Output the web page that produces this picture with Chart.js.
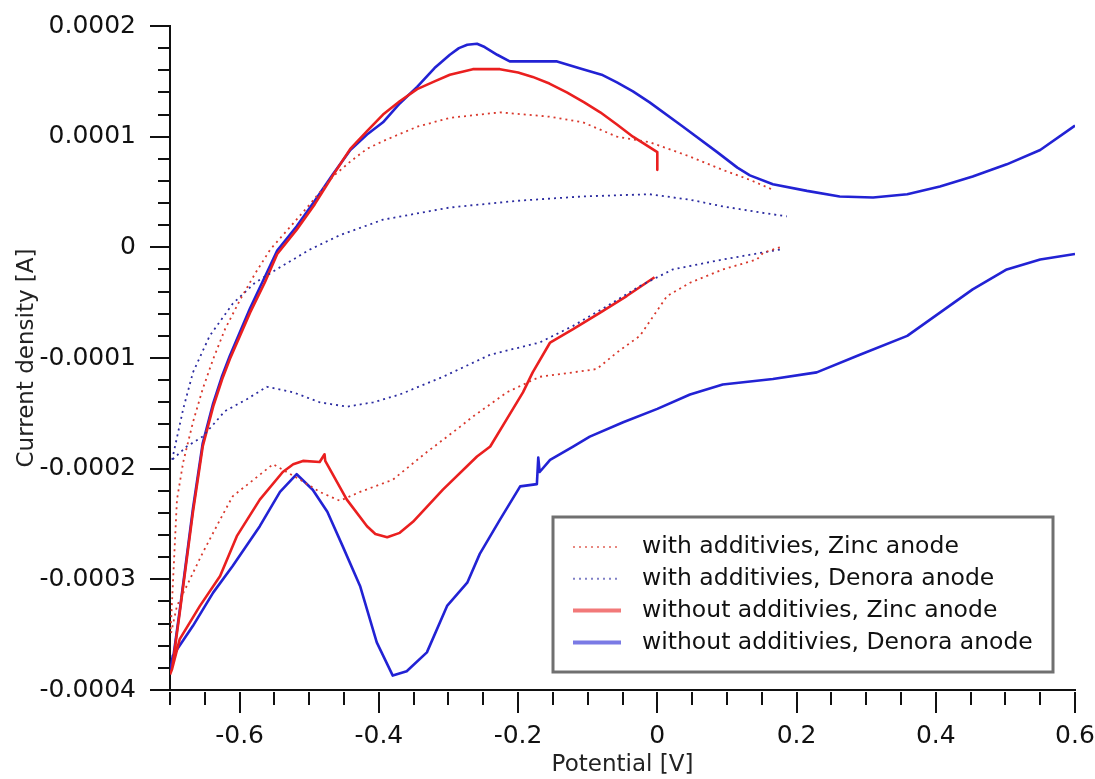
<!DOCTYPE html>
<html>
<head>
<meta charset="utf-8">
<script src="https://cdn.jsdelivr.net/npm/chart.js@4.4.1/dist/chart.umd.min.js"></script>
<style>
  html, body { margin: 0; padding: 0; background: #fff; }
</style>
</head>
<body>
<canvas id="cv" width="1095" height="779"></canvas>
<script>
// tick labels
var potentialTicks = [-0.6, -0.4, -0.2, 0, 0.2, 0.4, 0.6];
var currentTicks = [-0.0004, -0.0003, -0.0002, -0.0001, 0, 0.0001, 0.0002];

var seriesLabels = [
    'with additivies, Zinc anode',
    'with additivies, Denora anode',
    'without additivies, Zinc anode',
    'without additivies, Denora anode'
];

// [potential V, current A]; forward sweep then return sweep
var zincAddForward = [
    [-0.699, -3.45e-4], [-0.694, -2.80e-4], [-0.690, -2.28e-4], [-0.681, -1.94e-4], [-0.667, -1.58e-4],
    [-0.653, -1.28e-4], [-0.638, -1.01e-4], [-0.621, -0.74e-4], [-0.599, -0.47e-4], [-0.578, -0.24e-4],
    [-0.556, -0.02e-4], [-0.528, 0.18e-4], [-0.499, 0.39e-4], [-0.466, 0.64e-4], [-0.440, 0.78e-4],
    [-0.417, 0.89e-4], [-0.394, 0.96e-4], [-0.345, 1.09e-4], [-0.298, 1.17e-4], [-0.226, 1.22e-4],
    [-0.154, 1.18e-4], [-0.107, 1.13e-4], [-0.058, 1.00e-4], [-0.011, 0.95e-4], [0.047, 0.82e-4],
    [0.094, 0.70e-4], [0.133, 0.61e-4], [0.166, 0.52e-4]
];
var zincAddReturn = [
    [0.176, 0.00e-4], [0.152, -0.05e-4], [0.143, -0.11e-4], [0.094, -0.20e-4], [0.047, -0.32e-4],
    [0.014, -0.44e-4], [-0.025, -0.80e-4], [-0.058, -0.95e-4], [-0.087, -1.10e-4], [-0.121, -1.13e-4],
    [-0.169, -1.17e-4], [-0.216, -1.31e-4], [-0.265, -1.53e-4], [-0.283, -1.62e-4], [-0.331, -1.85e-4],
    [-0.380, -2.10e-4], [-0.427, -2.21e-4], [-0.456, -2.29e-4], [-0.485, -2.21e-4], [-0.513, -2.10e-4],
    [-0.552, -1.96e-4], [-0.610, -2.25e-4], [-0.628, -2.46e-4], [-0.653, -2.76e-4], [-0.676, -3.06e-4],
    [-0.690, -3.24e-4], [-0.699, -3.50e-4]
];

var denoraAddForward = [
    [-0.697, -1.92e-4], [-0.681, -1.46e-4], [-0.667, -1.13e-4], [-0.643, -0.80e-4], [-0.610, -0.51e-4],
    [-0.578, -0.32e-4], [-0.542, -0.18e-4], [-0.499, -0.02e-4], [-0.456, 0.11e-4], [-0.394, 0.25e-4],
    [-0.298, 0.36e-4], [-0.202, 0.42e-4], [-0.107, 0.46e-4], [-0.011, 0.48e-4], [0.047, 0.43e-4],
    [0.094, 0.37e-4], [0.143, 0.32e-4], [0.186, 0.28e-4]
];
var denoraAddReturn = [
    [0.176, -0.02e-4], [0.094, -0.11e-4], [0.022, -0.20e-4], [-0.025, -0.35e-4], [-0.072, -0.53e-4],
    [-0.121, -0.71e-4], [-0.169, -0.86e-4], [-0.240, -0.97e-4], [-0.308, -1.17e-4], [-0.370, -1.33e-4],
    [-0.408, -1.40e-4], [-0.446, -1.44e-4], [-0.485, -1.40e-4], [-0.523, -1.31e-4], [-0.561, -1.26e-4],
    [-0.589, -1.37e-4], [-0.621, -1.48e-4], [-0.653, -1.71e-4], [-0.676, -1.80e-4], [-0.697, -1.92e-4]
];

var zincPlainForward = [
    [-0.700, -3.86e-4], [-0.697, -3.81e-4], [-0.686, -3.30e-4], [-0.667, -2.39e-4], [-0.653, -1.80e-4],
    [-0.638, -1.44e-4], [-0.625, -1.19e-4], [-0.614, -1.01e-4], [-0.585, -0.59e-4], [-0.564, -0.32e-4],
    [-0.546, -0.06e-4], [-0.518, 0.16e-4], [-0.492, 0.39e-4], [-0.466, 0.65e-4], [-0.441, 0.89e-4],
    [-0.417, 1.05e-4], [-0.394, 1.20e-4], [-0.370, 1.32e-4], [-0.345, 1.43e-4], [-0.320, 1.50e-4],
    [-0.298, 1.56e-4], [-0.265, 1.61e-4], [-0.226, 1.61e-4], [-0.200, 1.58e-4], [-0.179, 1.54e-4],
    [-0.155, 1.48e-4], [-0.130, 1.40e-4], [-0.105, 1.31e-4], [-0.082, 1.22e-4], [-0.058, 1.11e-4],
    [-0.035, 1.00e-4], [0.000, 0.86e-4], [0.000, 0.70e-4]
];
var zincPlainReturn = [
    [-0.004, -0.27e-4], [-0.044, -0.44e-4], [-0.082, -0.59e-4], [-0.121, -0.74e-4], [-0.154, -0.86e-4],
    [-0.179, -1.13e-4], [-0.193, -1.31e-4], [-0.216, -1.55e-4], [-0.240, -1.80e-4], [-0.259, -1.89e-4],
    [-0.308, -2.19e-4], [-0.351, -2.48e-4], [-0.370, -2.58e-4], [-0.388, -2.62e-4], [-0.405, -2.59e-4],
    [-0.417, -2.52e-4], [-0.446, -2.28e-4], [-0.477, -1.93e-4], [-0.478, -1.87e-4], [-0.485, -1.94e-4],
    [-0.509, -1.93e-4], [-0.523, -1.96e-4], [-0.538, -2.03e-4], [-0.571, -2.28e-4], [-0.604, -2.61e-4],
    [-0.628, -2.97e-4], [-0.657, -3.24e-4], [-0.686, -3.54e-4], [-0.697, -3.81e-4]
];

var denoraPlainForward = [
    [-0.700, -3.84e-4], [-0.697, -3.78e-4], [-0.686, -3.28e-4], [-0.667, -2.36e-4], [-0.653, -1.77e-4],
    [-0.638, -1.41e-4], [-0.625, -1.16e-4], [-0.614, -0.98e-4], [-0.585, -0.55e-4], [-0.564, -0.27e-4],
    [-0.546, -0.03e-4], [-0.518, 0.19e-4], [-0.492, 0.42e-4], [-0.466, 0.66e-4], [-0.441, 0.88e-4],
    [-0.417, 1.02e-4], [-0.394, 1.13e-4], [-0.370, 1.30e-4], [-0.345, 1.45e-4], [-0.320, 1.62e-4],
    [-0.298, 1.74e-4], [-0.285, 1.80e-4], [-0.273, 1.83e-4], [-0.259, 1.84e-4], [-0.248, 1.81e-4],
    [-0.230, 1.74e-4], [-0.212, 1.68e-4], [-0.179, 1.68e-4], [-0.144, 1.68e-4], [-0.107, 1.61e-4],
    [-0.080, 1.56e-4], [-0.058, 1.49e-4], [-0.035, 1.41e-4], [-0.011, 1.31e-4], [0.037, 1.09e-4],
    [0.086, 0.86e-4], [0.115, 0.72e-4], [0.133, 0.65e-4], [0.166, 0.57e-4], [0.215, 0.51e-4],
    [0.262, 0.46e-4], [0.310, 0.45e-4], [0.359, 0.48e-4], [0.406, 0.55e-4], [0.453, 0.64e-4],
    [0.502, 0.75e-4], [0.550, 0.88e-4], [0.600, 1.10e-4]
];
var denoraPlainReturn = [
    [0.600, -0.06e-4], [0.550, -0.11e-4], [0.502, -0.20e-4], [0.453, -0.38e-4], [0.406, -0.59e-4],
    [0.359, -0.80e-4], [0.291, -0.97e-4], [0.229, -1.13e-4], [0.166, -1.19e-4], [0.094, -1.24e-4],
    [0.047, -1.33e-4], [0.000, -1.46e-4], [-0.049, -1.58e-4], [-0.097, -1.71e-4], [-0.121, -1.80e-4],
    [-0.154, -1.92e-4], [-0.169, -2.03e-4], [-0.171, -1.90e-4], [-0.173, -2.14e-4], [-0.197, -2.16e-4],
    [-0.226, -2.46e-4], [-0.255, -2.77e-4], [-0.273, -3.03e-4], [-0.302, -3.24e-4], [-0.331, -3.66e-4],
    [-0.360, -3.83e-4], [-0.380, -3.87e-4], [-0.403, -3.57e-4], [-0.427, -3.06e-4], [-0.452, -2.70e-4],
    [-0.474, -2.39e-4], [-0.495, -2.19e-4], [-0.518, -2.05e-4], [-0.542, -2.21e-4], [-0.571, -2.52e-4],
    [-0.610, -2.88e-4], [-0.638, -3.12e-4], [-0.667, -3.42e-4], [-0.696, -3.69e-4], [-0.700, -3.84e-4]
];

function sweep(forward, back) {
    var pts = forward.map(function (p) { return { x: p[0], y: p[1] }; });
    pts.push({ x: forward[forward.length - 1][0], y: null });
    return pts.concat(back.map(function (p) { return { x: p[0], y: p[1] }; }));
}

var fontName = '"DejaVu Sans", Verdana, sans-serif';

// minor + major tick marks outside the plot, like the original axes
var tickMarks = {
    id: 'tickMarks',
    afterDraw: function (chart) {
        var ctx = chart.ctx, x = chart.scales.x, y = chart.scales.y;
        var left = chart.chartArea.left, bottom = chart.chartArea.bottom;
        ctx.save();
        ctx.strokeStyle = '#111';
        ctx.lineWidth = 2;
        ctx.beginPath();
        for (var i = 0; i <= 30; i++) {
            var py = Math.round(y.getPixelForValue(-0.0004 + i * 0.00002));
            var len = i % 5 === 0 ? 20 : 12;
            ctx.moveTo(left, py);
            ctx.lineTo(left - len, py);
        }
        for (var j = 0; j <= 26; j++) {
            var px = Math.round(x.getPixelForValue(-0.7 + j * 0.05));
            var l = (j + 2) % 4 === 0 ? 21 : 13;
            ctx.moveTo(px, bottom + 2);
            ctx.lineTo(px, bottom + 2 + l);
        }
        ctx.stroke();
        ctx.restore();
    }
};

// boxed legend in the lower right of the plot
var boxLegend = {
    id: 'boxLegend',
    afterDraw: function (chart) {
        var ctx = chart.ctx, a = chart.chartArea;
        var w = 500, h = 155;
        var bx = a.right - 22 - w, by = a.bottom - 18 - h;
        ctx.save();
        ctx.fillStyle = '#fff';
        ctx.fillRect(bx, by, w, h);
        ctx.strokeStyle = '#707070';
        ctx.lineWidth = 3;
        ctx.strokeRect(bx, by, w, h);
        ctx.font = '23.5px ' + fontName;
        ctx.textBaseline = 'middle';
        chart.data.datasets.forEach(function (ds, i) {
            var cy = by + 30 + i * 31.8;
            ctx.globalAlpha = 0.6;
            ctx.strokeStyle = ds.borderColor;
            ctx.lineWidth = ds.borderDash ? 2 : 4;
            ctx.setLineDash(ds.borderDash || []);
            ctx.beginPath();
            ctx.moveTo(bx + 20, cy);
            ctx.lineTo(bx + 68, cy);
            ctx.stroke();
            ctx.setLineDash([]);
            ctx.globalAlpha = 1;
            ctx.fillStyle = '#111';
            ctx.fillText(ds.label, bx + 89, cy);
        });
        ctx.restore();
    }
};

new Chart(document.getElementById('cv'), {
    type: 'scatter',
    data: {
        datasets: [{
            label: seriesLabels[0],
            data: sweep(zincAddForward, zincAddReturn),
            borderColor: '#d9382c',
            borderWidth: 1.8,
            borderDash: [2, 4]
        }, {
            label: seriesLabels[1],
            data: sweep(denoraAddForward, denoraAddReturn),
            borderColor: '#2b2ba0',
            borderWidth: 1.8,
            borderDash: [2, 4]
        }, {
            label: seriesLabels[2],
            data: sweep(zincPlainForward, zincPlainReturn),
            borderColor: '#ea1f1f',
            borderWidth: 2.6
        }, {
            label: seriesLabels[3],
            data: sweep(denoraPlainForward, denoraPlainReturn),
            borderColor: '#2222d4',
            borderWidth: 2.6
        }]
    },
    options: {
        responsive: false,
        animation: false,
        showLine: true,
        spanGaps: false,
        elements: { point: { radius: 0, hoverRadius: 0 }, line: { tension: 0, borderJoinStyle: 'round' } },
        layout: { padding: { left: 0, right: 20, top: 26, bottom: 0 } },
        plugins: { legend: { display: false }, tooltip: { enabled: false } },
        scales: {
            x: {
                type: 'linear',
                min: -0.7,
                max: 0.6,
                afterBuildTicks: function (s) { s.ticks = potentialTicks.map(function (v) { return { value: v }; }); },
                afterFit: function (s) { s.height = 89; s.paddingLeft = 0; s.paddingRight = 0; },
                grid: { display: false },
                border: { display: true, color: '#111', width: 2 },
                ticks: {
                    autoSkip: false,
                    maxRotation: 0,
                    padding: 23,
                    color: '#111',
                    font: { family: fontName, size: 25 },
                    callback: function (v) { return String(Math.round(v * 10) / 10); }
                },
                title: {
                    display: true,
                    text: 'Potential [V]',
                    color: '#222',
                    font: { family: fontName, size: 23 },
                    padding: { top: 0, bottom: 0 }
                }
            },
            y: {
                type: 'linear',
                min: -0.0004,
                max: 0.0002,
                afterBuildTicks: function (s) { s.ticks = currentTicks.map(function (v) { return { value: v }; }); },
                afterFit: function (s) { s.width = 170; s.paddingTop = 0; s.paddingBottom = 0; },
                grid: { display: false },
                border: { display: true, color: '#111', width: 2 },
                ticks: {
                    padding: 26,
                    color: '#111',
                    font: { family: fontName, size: 25 },
                    callback: function (v) { return String(Math.round(v * 1e4) / 1e4); }
                },
                title: {
                    display: true,
                    text: 'Current density [A]',
                    color: '#222',
                    font: { family: fontName, size: 23 },
                    padding: { top: 13, bottom: 0 }
                }
            }
        }
    },
    plugins: [tickMarks, boxLegend]
});
</script>
</body>
</html>
